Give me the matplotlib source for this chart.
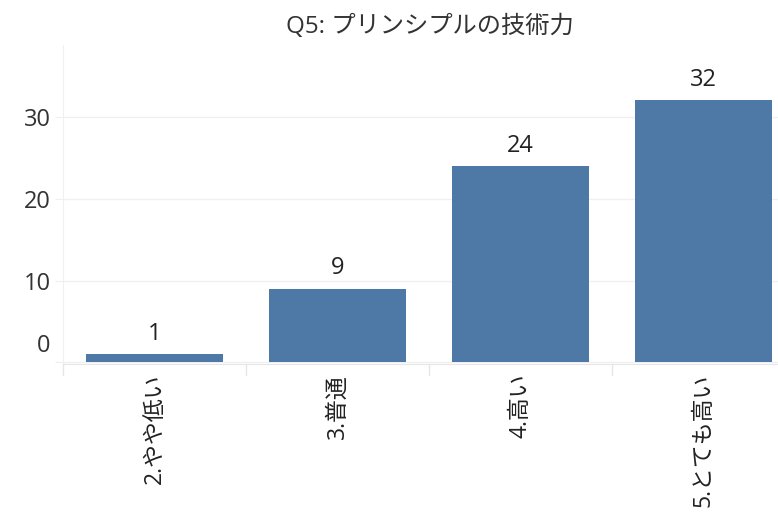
import matplotlib.pyplot as plt
import matplotlib.transforms as mtransforms

plt.rcParams['font.family'] = ['Open Sans', 'Noto Sans CJK JP', 'DejaVu Sans']

categories = ['2.やや低い', '3.普通', '4.高い', '5.とても高い']
counts = [1, 9, 24, 32]
yticks = [0, 10, 20, 30]

fig = plt.figure(figsize=(7.78, 5.15), dpi=100)
ax = fig.add_axes([0.081, 0.293, 0.941, 0.62])

x = range(len(categories))
ax.bar(x, counts, width=0.75, color='#4e79a7', zorder=3)
for i in x:
    ax.annotate(str(counts[i]), (i, counts[i]), xytext=(0, 6), textcoords='offset points',
                ha='center', va='bottom', fontsize=17, color='#222222')

ax.set_xlim(-0.5, len(categories) - 0.5)
ax.set_ylim(-0.2, 38.8)
ax.set_yticks(yticks)
ax.set_yticklabels([str(v) for v in yticks], fontsize=17, color='#333333')
ax.tick_params(axis='y', length=6, color='#eeeeee', pad=3)
ax.yaxis.grid(True, color='#f0f0f0', linewidth=1, zorder=0)
# zero label sits above its gridline
lab0 = ax.get_yticklabels()[0]
lab0.set_transform(lab0.get_transform() + mtransforms.ScaledTranslation(0, 14 / 72, fig.dpi_scale_trans))

# category labels hang under the axis, read bottom-to-top
ax.set_xticks(list(x))
ax.set_xticklabels(categories, rotation=90, fontsize=16.5, color='#222222', va='top')
ax.tick_params(axis='x', length=0, pad=7)
for sep in [i - 0.5 for i in x]:
    ax.plot([sep, sep], [0, -0.035], transform=ax.get_xaxis_transform(),
            color='#e6e6e6', linewidth=1, clip_on=False)

for s in ['top', 'right']:
    ax.spines[s].set_visible(False)
ax.spines['left'].set_color('#f0f0f0')
ax.spines['bottom'].set_color('#e6e6e6')

fig.text(0.553, 0.948, 'Q5: プリンシプルの技術力', ha='center', va='center', fontsize=17.5, color='#333333')

fig.savefig('out.png', dpi=100)
